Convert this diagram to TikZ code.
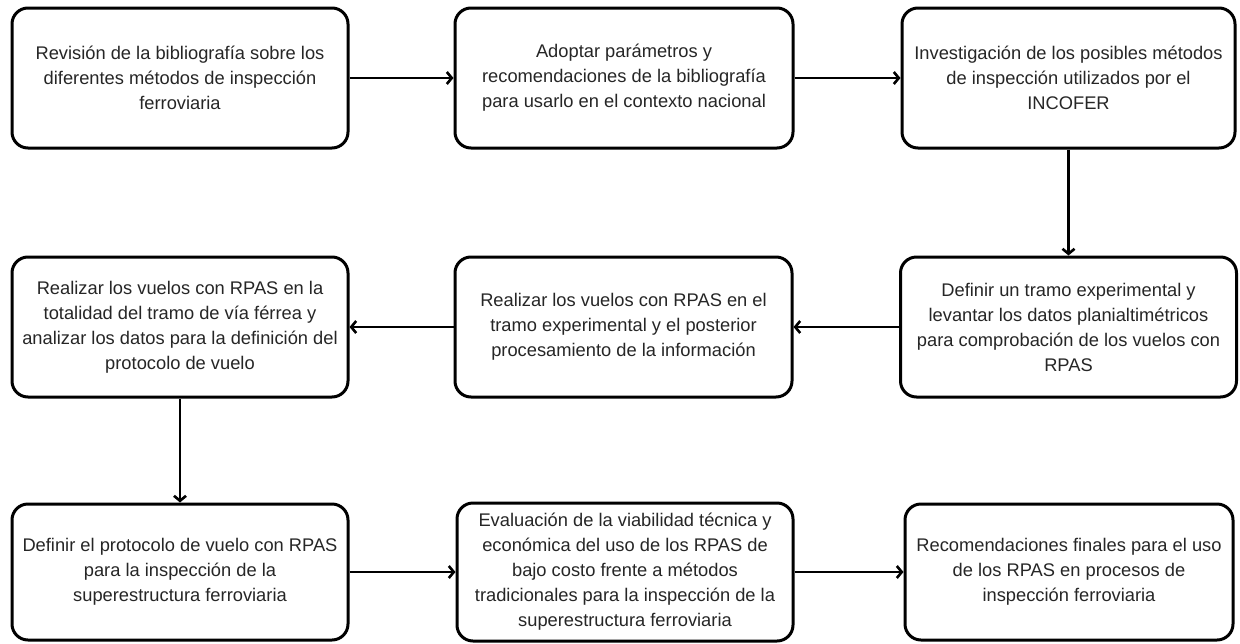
\documentclass[tikz,border=0pt]{standalone}
\usepackage{fontspec}
\setmainfont{Liberation Sans}
\usetikzlibrary{arrows.meta}
\begin{document}
\begin{tikzpicture}[x=1pt,y=-1pt,
  stepbox/.style={draw=black, line width=3pt, rounded corners=16pt, fill=white,
    align=center, inner sep=0pt, text=black!85,
    font=\fontsize{18.3pt}{25pt}\selectfont},
  conn/.style={line width=2.6pt, -{Straight Barb[length=5pt,width=12pt,line width=2.6pt]}}]
  \useasboundingbox (0,0) rectangle (1240,643);
  % first row
  \node[stepbox, minimum width=336, minimum height=140] (b1) at (180,78)
    {Revisión de la bibliografía sobre los\\diferentes métodos de inspección\\ferroviaria};
  \node[stepbox, minimum width=338, minimum height=140] (b2) at (624,78)
    {Adoptar parámetros y\\recomendaciones de la bibliografía\\para usarlo en el contexto nacional};
  \node[stepbox, minimum width=333, minimum height=140] (b3) at (1068.5,78)
    {Investigación de los posibles métodos\\de inspección utilizados por el\\INCOFER};
  % second row
  \node[stepbox, minimum width=336, minimum height=140] (b4) at (180,327)
    {Realizar los vuelos con RPAS en la\\totalidad del tramo de vía férrea y\\analizar los datos para la definición del\\protocolo de vuelo};
  \node[stepbox, minimum width=337, minimum height=140] (b5) at (623.5,327)
    {Realizar los vuelos con RPAS en el\\tramo experimental y el posterior\\procesamiento de la información};
  \node[stepbox, minimum width=336, minimum height=140] (b6) at (1068.5,327)
    {Definir un tramo experimental y\\levantar los datos planialtimétricos\\para comprobación de los vuelos con\\RPAS};
  % third row
  \node[stepbox, minimum width=336, minimum height=136] (b7) at (180,572)
    {Definir el protocolo de vuelo con RPAS\\para la inspección de la\\superestructura ferroviaria};
  \node[stepbox, minimum width=336, minimum height=138] (b8) at (625,572)
    {Evaluación de la viabilidad técnica y\\económica del uso de los RPAS de\\bajo costo frente a métodos\\tradicionales para la inspección de la\\superestructura ferroviaria};
  \node[stepbox, minimum width=328, minimum height=136] (b9) at (1069,572)
    {Recomendaciones finales para el uso\\de los RPAS en procesos de\\inspección ferroviaria};
  % connectors
  \draw[conn] (b1.east) -- (b2.west);
  \draw[conn] (b2.east) -- (b3.west);
  \draw[conn] (b3.south) -- (b6.north);
  \draw[conn] (b6.west) -- (b5.east);
  \draw[conn] (b5.west) -- (b4.east);
  \draw[conn] (b4.south) -- (b7.north);
  \draw[conn] (b7.east) -- (b8.west);
  \draw[conn] (b8.east) -- (b9.west);
\end{tikzpicture}
\end{document}
